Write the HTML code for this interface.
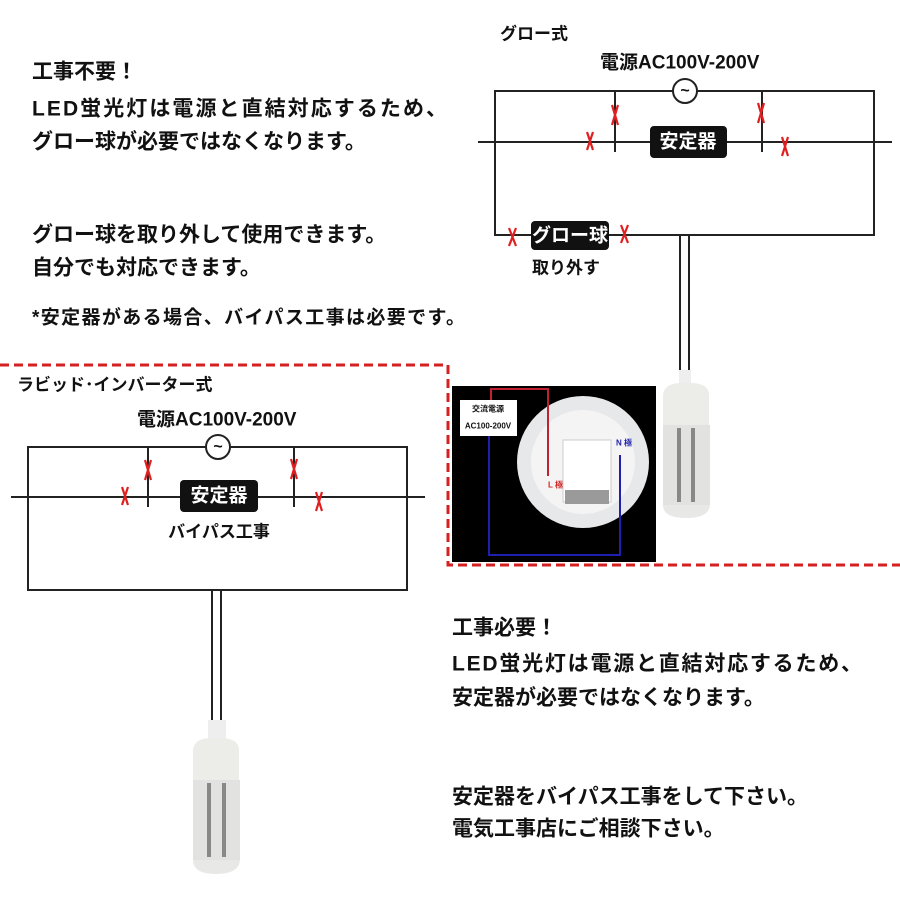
<!DOCTYPE html>
<html><head><meta charset="utf-8"><style>
html,body{margin:0;padding:0;background:#fff;}
svg{display:block;}
text{font-family:"Liberation Sans","Noto Sans CJK JP",sans-serif;font-weight:bold;fill:#111;dominant-baseline:central;}
</style></head><body>
<svg width="900" height="900" viewBox="0 0 900 900" xmlns="http://www.w3.org/2000/svg">
<rect width="900" height="900" fill="#fff"/>
<!-- left top text -->
<g font-size="21">
<text x="32" y="72">工事不要！</text>
<text x="32" y="109" textLength="415">LED蛍光灯は電源と直結対応するため、</text>
<text x="32" y="142">グロー球が必要ではなくなります。</text>
<text x="32" y="235">グロー球を取り外して使用できます。</text>
<text x="32" y="268">自分でも対応できます。</text>
</g>
<text x="32" y="318" font-size="19" textLength="433">*安定器がある場合、バイパス工事は必要です。</text>

<!-- Glow diagram -->
<text x="500" y="34" font-size="17">グロー式</text>
<text x="600" y="63" font-size="19">電源AC100V-200V</text>
<g stroke="#222" stroke-width="2" fill="none">
<polyline points="673,91 495,91 495,235 874,235 874,91 697,91"/>
<line x1="478" y1="142" x2="892" y2="142"/>
<line x1="615" y1="91" x2="615" y2="152"/>
<line x1="762" y1="91" x2="762" y2="152"/>
<circle cx="685" cy="91" r="12" fill="#fff"/>
<line x1="680" y1="235" x2="680" y2="370" stroke-width="2"/>
<line x1="689" y1="235" x2="689" y2="370" stroke-width="2"/>
</g>
<text x="685" y="91" font-size="16" font-weight="normal" text-anchor="middle">~</text>
<rect x="650" y="126" width="77" height="32" rx="4" fill="#111"/>
<text x="688" y="142" font-size="19" fill="#fff" style="fill:#fff" text-anchor="middle">安定器</text>
<rect x="531" y="221" width="78" height="29" rx="4" fill="#111"/>
<text x="570" y="236" font-size="19" style="fill:#fff" text-anchor="middle">グロー球</text>
<text x="532" y="268" font-size="17">取り外す</text>
<g stroke="#e02020" stroke-width="2.2" fill="none">
<path d="M587,132 L593,150 M593,132 L587,150"/>
<path d="M612,105 L618,125 M618,105 L612,125"/>
<path d="M758,103 L764,123 M764,103 L758,123"/>
<path d="M782,137 L788,156 M788,137 L782,156"/>
<path d="M509,228 L516,246 M516,228 L509,246"/>
<path d="M621,225 L628,243 M628,225 L621,243"/>
</g>

<!-- dashed red -->
<polyline points="0,365 448,365 448,565 900,565" fill="none" stroke="#d42020" stroke-width="3" stroke-dasharray="9,5"/>

<!-- photo -->
<rect x="452" y="386" width="204" height="176" fill="#000"/>
<circle cx="583" cy="462" r="66" fill="#e6e8ea"/>
<circle cx="583" cy="462" r="52" fill="#f4f4f4"/>
<rect x="563" y="440" width="48" height="62" fill="#fff" stroke="#ccc"/>
<rect x="565" y="490" width="44" height="14" fill="#9a9a9a"/>
<rect x="460" y="400" width="57" height="36" fill="#fff"/>
<text x="488" y="409" font-size="8" font-weight="normal" text-anchor="middle">交流電源</text>
<text x="488" y="426" font-size="8" font-weight="normal" text-anchor="middle">AC100-200V</text>
<polyline points="491,400 491,389 548,389 548,476" fill="none" stroke="#c02030" stroke-width="2"/>
<polyline points="489,436 489,555 620,555 620,455" fill="none" stroke="#2020b0" stroke-width="2"/>
<text x="548" y="485" font-size="8" style="fill:#d02020">L 極</text>
<text x="616" y="443" font-size="8" style="fill:#2020b0">N 極</text>

<!-- right lamp -->
<g>
<rect x="679" y="370" width="12" height="18" fill="#eee"/>
<path d="M663,395 Q664,382 686,383 Q709,382 709,395 L709,425 L663,425 Z" fill="#ecece8"/>
<rect x="663" y="425" width="47" height="80" fill="#e2e2e0"/>
<rect x="677" y="428" width="4" height="74" fill="#888"/>
<rect x="691" y="428" width="4" height="74" fill="#888"/>
<path d="M663,505 L710,505 Q709,518 686,518 Q663,518 663,505 Z" fill="#e8e8e6"/>
</g>

<!-- left diagram -->
<text x="17" y="385" font-size="17">ラビッド･インバーター式</text>
<text x="137" y="420" font-size="19">電源AC100V-200V</text>
<g stroke="#222" stroke-width="2" fill="none">
<polyline points="206,447 28,447 28,590 407,590 407,447 230,447"/>
<line x1="11" y1="497" x2="425" y2="497"/>
<line x1="148" y1="447" x2="148" y2="507"/>
<line x1="294" y1="447" x2="294" y2="507"/>
<circle cx="218" cy="447" r="12" fill="#fff"/>
<line x1="212" y1="590" x2="212" y2="730"/>
<line x1="221" y1="590" x2="221" y2="730"/>
</g>
<text x="218" y="447" font-size="16" font-weight="normal" text-anchor="middle">~</text>
<rect x="180" y="480" width="78" height="32" rx="4" fill="#111"/>
<text x="219" y="496" font-size="19" style="fill:#fff" text-anchor="middle">安定器</text>
<text x="219" y="532" font-size="17" text-anchor="middle">バイパス工事</text>
<g stroke="#e02020" stroke-width="2.2" fill="none">
<path d="M122,487 L128,505 M128,487 L122,505"/>
<path d="M145,460 L151,480 M151,460 L145,480"/>
<path d="M291,459 L297,479 M297,459 L291,479"/>
<path d="M316,492 L322,511 M322,492 L316,511"/>
</g>
<!-- left lamp -->
<g>
<rect x="208" y="720" width="18" height="22" fill="#eee"/>
<path d="M193,750 Q194,737 216,738 Q239,737 239,750 L239,780 L193,780 Z" fill="#ecece8"/>
<rect x="193" y="780" width="47" height="80" fill="#e2e2e0"/>
<rect x="207" y="783" width="4" height="74" fill="#888"/>
<rect x="222" y="783" width="4" height="74" fill="#888"/>
<path d="M193,860 L240,860 Q239,874 216,874 Q193,874 193,860 Z" fill="#e8e8e6"/>
</g>

<!-- bottom right text -->
<g font-size="21">
<text x="452" y="628">工事必要！</text>
<text x="452" y="664" textLength="410">LED蛍光灯は電源と直結対応するため、</text>
<text x="452" y="698">安定器が必要ではなくなります。</text>
<text x="452" y="797">安定器をバイパス工事をして下さい。</text>
<text x="452" y="829">電気工事店にご相談下さい。</text>
</g>
</svg>
</body></html>
